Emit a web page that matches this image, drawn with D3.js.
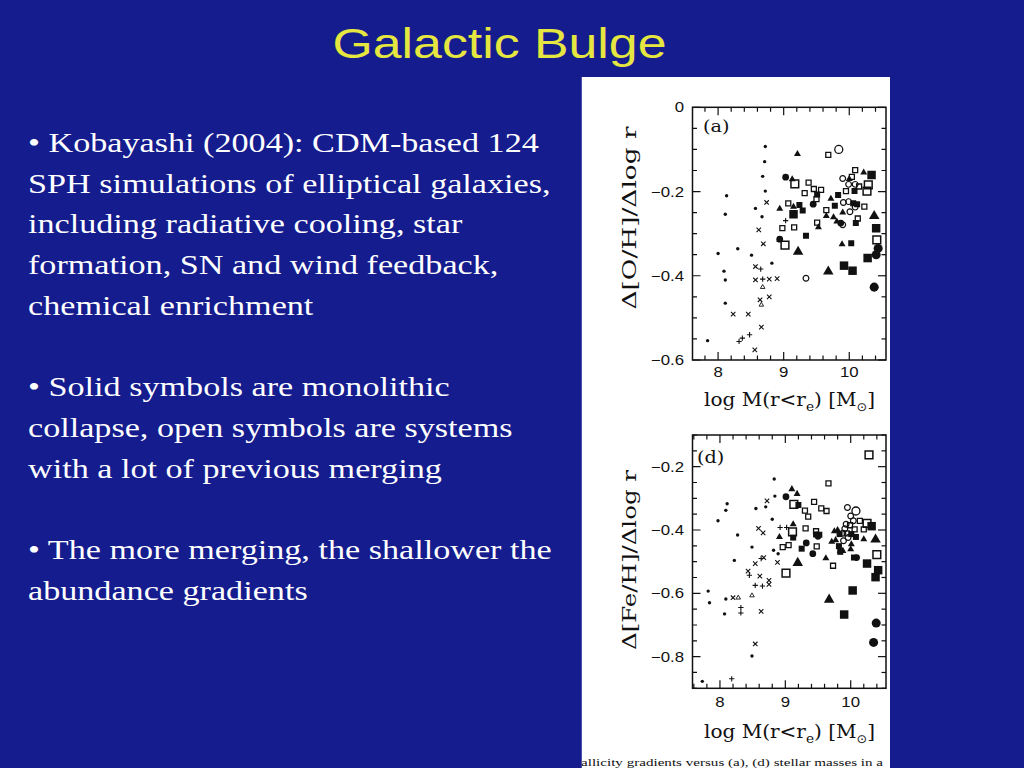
<!DOCTYPE html>
<html>
<head>
<meta charset="utf-8">
<title>Galactic Bulge</title>
<script src="https://cdn.jsdelivr.net/npm/d3@7"></script>
<style>
  html, body { margin: 0; padding: 0; background: #141c8e; }
  #slide { width: 1024px; height: 768px; overflow: hidden; }
</style>
</head>
<body>
<div id="slide"></div>
<script>
// Slide text
var titleText = 'Galactic Bulge';
var bulletLines = [
  '\u2022 Kobayashi (2004): CDM-based 124',
  'SPH simulations of elliptical galaxies,',
  'including radiative cooling, star',
  'formation, SN and wind feedback,',
  'chemical enrichment',
  '',
  '\u2022 Solid symbols are monolithic',
  'collapse, open symbols are systems',
  'with a lot of previous merging',
  '',
  '\u2022 The more merging, the shallower the',
  'abundance gradients'
];
var captionText = 'allicity gradients versus (a), (d) stellar masses in a';

// Axis ticks
var xTicks = [8, 9, 10];
var yTicksA = [0, -0.2, -0.4, -0.6];
var yTicksD = [-0.2, -0.4, -0.6, -0.8];

// Points: [log M, gradient, symbol]
// d dot, x cross, p plus, t tiny open triangle, T/TT filled triangle,
// s/S open square, q/Q filled square, o/O open circle, c/C filled circle
var pointsA = [
  [8.72,-0.093,'d'],[8.71,-0.129,'d'],[8.68,-0.164,'d'],[8.72,-0.199,'d'],[8.13,-0.21,'d'],
  [8.11,-0.254,'d'],[8.57,-0.240,'d'],[8.67,-0.260,'d'],[8.00,-0.347,'d'],[8.30,-0.336,'d'],
  [8.51,-0.351,'d'],[8.82,-0.370,'d'],[8.09,-0.389,'d'],[8.11,-0.41,'d'],[8.11,-0.465,'d'],
  [7.84,-0.554,'d'],
  [8.74,-0.226,'x'],[8.62,-0.291,'x'],[8.69,-0.324,'x'],[8.57,-0.378,'x'],[8.57,-0.41,'x'],
  [8.78,-0.408,'x'],[8.90,-0.407,'x'],[8.23,-0.491,'x'],[8.46,-0.491,'x'],[8.64,-0.457,'x'],
  [8.78,-0.450,'x'],[8.66,-0.522,'x'],[8.56,-0.576,'x'],
  [8.65,-0.384,'p'],[8.68,-0.408,'p'],[8.48,-0.540,'p'],[8.37,-0.548,'p'],[8.32,-0.556,'p'],
  [9.03,-0.269,'p'],
  [8.68,-0.427,'t'],[8.66,-0.469,'t'],
  [9.21,-0.111,'T'],[9.13,-0.171,'T'],[8.94,-0.241,'T'],[9.15,-0.236,'T'],[8.94,-0.315,'T'],
  [9.72,-0.217,'T'],[9.65,-0.258,'T'],[9.76,-0.261,'T'],[9.90,-0.250,'T'],[9.81,-0.271,'T'],
  [9.53,-0.285,'T'],[10.00,-0.170,'T'],[10.22,-0.155,'T'],[9.89,-0.325,'T'],
  [9.22,-0.343,'TT'],[9.68,-0.390,'TT'],[10.38,-0.258,'TT'],
  [9.68,-0.113,'s'],[9.38,-0.179,'s'],[9.32,-0.204,'s'],[9.46,-0.194,'s'],[9.57,-0.196,'s'],
  [9.50,-0.218,'s'],[9.07,-0.228,'s'],[8.98,-0.287,'s'],[9.16,-0.285,'s'],[9.65,-0.244,'s'],
  [9.51,-0.274,'s'],[10.04,-0.165,'s'],[10.09,-0.149,'s'],[10.15,-0.188,'s'],[9.95,-0.199,'s'],
  [10.23,-0.236,'s'],[10.13,-0.264,'s'],
  [9.17,-0.182,'S'],[9.02,-0.327,'S'],[10.29,-0.184,'S'],[10.27,-0.199,'S'],[10.42,-0.315,'S'],
  [9.51,-0.207,'q'],[9.24,-0.232,'q'],[9.29,-0.245,'q'],[9.83,-0.208,'q'],[9.78,-0.234,'q'],
  [10.08,-0.199,'q'],[10.06,-0.228,'q'],[10.12,-0.230,'q'],[10.10,-0.275,'q'],[10.03,-0.323,'q'],
  [9.34,-0.305,'q'],
  [9.15,-0.254,'Q'],[10.34,-0.161,'Q'],[10.41,-0.287,'Q'],[10.28,-0.358,'Q'],[9.92,-0.376,'Q'],
  [10.05,-0.388,'Q'],
  [9.90,-0.169,'o'],[9.99,-0.183,'o'],[10.09,-0.183,'o'],[9.91,-0.226,'o'],[9.99,-0.224,'o'],
  [10.09,-0.237,'o'],[10.01,-0.248,'o'],[9.90,-0.279,'o'],[9.34,-0.406,'o'],
  [9.84,-0.100,'O'],
  [9.03,-0.166,'c'],[9.45,-0.230,'c'],[8.94,-0.313,'c'],[9.87,-0.275,'c'],
  [10.41,-0.350,'C'],[10.44,-0.335,'C'],[10.38,-0.427,'C']
];

var pointsD = [
  [8.83,-0.239,'d'],[8.84,-0.293,'d'],[8.70,-0.327,'d'],[8.55,-0.332,'d'],[8.11,-0.317,'d'],
  [8.09,-0.338,'d'],[7.97,-0.371,'d'],[8.27,-0.416,'d'],[8.80,-0.366,'d'],[8.49,-0.454,'d'],
  [8.82,-0.464,'d'],[8.89,-0.475,'d'],[8.22,-0.496,'d'],[7.82,-0.593,'d'],[7.84,-0.630,'d'],
  [8.09,-0.618,'d'],[8.07,-0.665,'d'],[8.49,-0.798,'d'],[7.73,-0.878,'d'],
  [8.72,-0.308,'x'],[8.59,-0.395,'x'],[8.66,-0.409,'x'],[8.54,-0.506,'x'],[8.43,-0.530,'x'],
  [8.61,-0.546,'x'],[8.75,-0.559,'x'],[8.88,-0.502,'x'],[8.20,-0.614,'x'],[8.63,-0.657,'x'],
  [8.54,-0.760,'x'],[8.75,-0.572,'x'],[8.67,-0.487,'x'],
  [8.92,-0.392,'p'],[9.02,-0.392,'p'],[8.63,-0.490,'p'],[8.45,-0.543,'p'],[8.54,-0.575,'p'],
  [8.65,-0.577,'p'],[8.32,-0.645,'p'],[8.32,-0.662,'p'],[8.18,-0.870,'p'],
  [8.28,-0.614,'t'],[8.49,-0.607,'t'],
  [9.10,-0.271,'T'],[9.18,-0.286,'T'],[8.91,-0.422,'T'],[9.12,-0.382,'T'],[9.62,-0.489,'T'],
  [9.75,-0.404,'T'],[9.80,-0.400,'T'],[10.20,-0.429,'T'],[9.71,-0.437,'T'],[10.01,-0.445,'T'],
  [9.77,-0.432,'T'],[9.84,-0.466,'T'],[9.88,-0.466,'T'],[10.00,-0.461,'T'],
  [9.19,-0.504,'TT'],[9.67,-0.620,'TT'],[10.38,-0.430,'TT'],
  [9.30,-0.339,'s'],[9.35,-0.358,'s'],[9.44,-0.311,'s'],[9.55,-0.332,'s'],[9.63,-0.340,'s'],
  [9.66,-0.253,'s'],[8.96,-0.454,'s'],[9.05,-0.448,'s'],[9.31,-0.395,'s'],[9.48,-0.452,'s'],
  [9.73,-0.513,'s'],[10.20,-0.398,'s'],[10.14,-0.371,'s'],[9.47,-0.404,'s'],[9.99,-0.385,'s'],
  [9.94,-0.411,'s'],[10.06,-0.398,'s'],
  [9.13,-0.319,'S'],[9.11,-0.406,'S'],[9.01,-0.536,'S'],[10.28,-0.163,'S'],[10.40,-0.478,'S'],
  [10.25,-0.379,'S'],
  [9.20,-0.321,'q'],[9.12,-0.424,'q'],[9.25,-0.459,'q'],[9.47,-0.414,'q'],[9.52,-0.415,'q'],
  [9.83,-0.413,'q'],[10.01,-0.413,'q'],[10.08,-0.422,'q'],[9.82,-0.451,'q'],[9.84,-0.469,'q'],
  [10.05,-0.487,'q'],
  [9.90,-0.667,'Q'],[10.03,-0.591,'Q'],[10.25,-0.506,'Q'],[10.42,-0.527,'Q'],[10.38,-0.549,'Q'],
  [10.32,-0.388,'Q'],
  [9.95,-0.329,'o'],[10.00,-0.356,'o'],[10.04,-0.371,'o'],[9.93,-0.382,'o'],[9.91,-0.396,'o'],
  [9.88,-0.410,'o'],[9.89,-0.434,'o'],[9.96,-0.424,'o'],
  [10.08,-0.340,'O'],
  [9.01,-0.295,'c'],[9.32,-0.441,'c'],[9.42,-0.475,'c'],[9.50,-0.420,'c'],[10.09,-0.487,'c'],
  [10.39,-0.694,'C'],[10.35,-0.755,'C']
];

(function() {
  'use strict';

  var W = 1024, H = 768;
  var ink = '#111';

  var svg = d3.select('#slide')
    .append('svg')
    .attr('width', W)
    .attr('height', H);

  svg.append('rect')
    .attr('width', W).attr('height', H)
    .attr('fill', '#141c8e');

  // The slide is a bit wider than its fonts, so text gets a horizontal stretch
  var stretch = 1.22;

  // Title
  svg.append('text')
    .attr('x', 499.5)
    .attr('y', 58)
    .attr('text-anchor', 'middle')
    .attr('font-family', '"Liberation Sans", Arial, sans-serif')
    .attr('font-size', 42)
    .attr('fill', '#e6e640')
    .attr('textLength', 334)
    .attr('lengthAdjust', 'spacingAndGlyphs')
    .text(titleText);

  // Bullet text
  svg.selectAll('.bullet')
    .data(bulletLines)
    .enter().append('text')
    .attr('class', 'bullet')
    .attr('transform', function(d, i) {
      return 'translate(28,' + (152 + i * 40.7) + ') scale(' + stretch + ',1)';
    })
    .attr('font-family', '"Liberation Serif", "Times New Roman", serif')
    .attr('font-size', 28)
    .attr('fill', '#ffffff')
    .text(function(d) { return d; });

  // White figure panel
  svg.append('clipPath').attr('id', 'panel-clip')
    .append('rect')
    .attr('x', 581.5).attr('y', 77).attr('width', 308.5).attr('height', H - 77);

  var panel = svg.append('g').attr('clip-path', 'url(#panel-clip)');
  panel.append('rect')
    .attr('x', 581.5).attr('y', 77).attr('width', 308.5).attr('height', H - 77)
    .attr('fill', '#ffffff');

  panel.append('text')
    .attr('x', 581)
    .attr('y', 766)
    .attr('font-family', '"Liberation Serif", serif')
    .attr('font-size', 11)
    .attr('fill', ink)
    .attr('textLength', 302)
    .attr('lengthAdjust', 'spacingAndGlyphs')
    .text(captionText);

  // Symbol types
  var timesType = {
    draw: function(ctx, size) {
      var r = Math.sqrt(size) / 2;
      ctx.moveTo(-r, -r); ctx.lineTo(r, r);
      ctx.moveTo(r, -r); ctx.lineTo(-r, r);
    }
  };
  var plusType = {
    draw: function(ctx, size) {
      var r = Math.sqrt(size) / 2;
      ctx.moveTo(-r, 0); ctx.lineTo(r, 0);
      ctx.moveTo(0, -r); ctx.lineTo(0, r);
    }
  };

  var symbolStyle = {
    d:  { type: d3.symbolCircle,   size: 9,  fill: true },
    x:  { type: timesType,         size: 20, fill: false, sw: 1.1 },
    p:  { type: plusType,          size: 28, fill: false, sw: 1.1 },
    t:  { type: d3.symbolTriangle, size: 9,  fill: false, sw: 0.9 },
    T:  { type: d3.symbolTriangle, size: 21, fill: true },
    TT: { type: d3.symbolTriangle, size: 48, fill: true },
    s:  { type: d3.symbolSquare,   size: 25, fill: false, sw: 1.3 },
    S:  { type: d3.symbolSquare,   size: 60, fill: false, sw: 1.5 },
    q:  { type: d3.symbolSquare,   size: 36, fill: true },
    Q:  { type: d3.symbolSquare,   size: 72, fill: true },
    o:  { type: d3.symbolCircle,   size: 26, fill: false, sw: 1.2 },
    O:  { type: d3.symbolCircle,   size: 50, fill: false, sw: 1.3 },
    c:  { type: d3.symbolCircle,   size: 36, fill: true },
    C:  { type: d3.symbolCircle,   size: 64, fill: true }
  };

  function drawPanel(p) {
    var x = d3.scaleLinear().domain(p.xDomain).range([p.left, p.right]);
    var y = d3.scaleLinear().domain(p.yDomain).range([p.bottom, p.top]);
    var g = panel.append('g');

    // Tick marks on all four sides, pointing in
    var xMinor = d3.range(Math.ceil(p.xDomain[0] / 0.2), Math.floor(p.xDomain[1] / 0.2) + 1)
      .map(function(k) { return k * 0.2; });
    var yMinor = d3.range(Math.ceil(p.yDomain[0] / 0.05 - 1e-6), Math.floor(p.yDomain[1] / 0.05 + 1e-6) + 1)
      .map(function(k) { return k * 0.05; });

    function isMajor(v, step) { return Math.abs(v / step - Math.round(v / step)) < 1e-6; }

    xMinor.forEach(function(v) {
      var len = isMajor(v, 1) ? 8 : 4.5;
      g.append('line').attr('x1', x(v)).attr('x2', x(v))
        .attr('y1', p.bottom).attr('y2', p.bottom - len);
      g.append('line').attr('x1', x(v)).attr('x2', x(v))
        .attr('y1', p.top).attr('y2', p.top + len);
    });
    yMinor.forEach(function(v) {
      var len = isMajor(v, 0.2) ? 8 : 4.5;
      g.append('line').attr('y1', y(v)).attr('y2', y(v))
        .attr('x1', p.left).attr('x2', p.left + len);
      g.append('line').attr('y1', y(v)).attr('y2', y(v))
        .attr('x1', p.right).attr('x2', p.right - len);
    });
    g.selectAll('line').attr('stroke', ink).attr('stroke-width', 1.2);

    g.append('rect')
      .attr('x', p.left).attr('y', p.top)
      .attr('width', p.right - p.left).attr('height', p.bottom - p.top)
      .attr('fill', 'none')
      .attr('stroke', ink)
      .attr('stroke-width', 1.5);

    // Tick labels
    g.selectAll('.xtl')
      .data(xTicks)
      .enter().append('text')
      .attr('class', 'xtl')
      .attr('transform', function(d) {
        return 'translate(' + x(d) + ',' + p.xLabelY + ') scale(1.2,1)';
      })
      .attr('text-anchor', 'middle')
      .attr('font-family', '"Liberation Sans", Arial, sans-serif')
      .attr('font-size', 14)
      .attr('fill', ink)
      .text(function(d) { return d; });

    g.selectAll('.ytl')
      .data(p.yTicks)
      .enter().append('text')
      .attr('class', 'ytl')
      .attr('transform', function(d) {
        return 'translate(684,' + (y(d) + 5) + ') scale(1.2,1)';
      })
      .attr('text-anchor', 'end')
      .attr('font-family', '"Liberation Sans", Arial, sans-serif')
      .attr('font-size', 14)
      .attr('fill', ink)
      .text(function(d) { return d === 0 ? '0' : '\u2212' + Math.abs(d).toFixed(1); });

    // Panel tag
    g.append('text')
      .attr('transform', 'translate(' + p.tagX + ',' + p.tagY + ') scale(1.2,1)')
      .attr('font-family', '"DejaVu Serif", serif')
      .attr('font-size', 16)
      .attr('fill', ink)
      .text(p.tag);

    // x axis label: log M(r<r_e) [M_sun]
    var xl = g.append('text')
      .attr('x', 704)
      .attr('y', p.xTitleY)
      .attr('font-family', '"DejaVu Serif", serif')
      .attr('font-size', 19)
      .attr('fill', ink)
      .attr('textLength', 171)
      .attr('lengthAdjust', 'spacingAndGlyphs');
    xl.append('tspan').text('log M(r<r');
    xl.append('tspan').attr('dy', 5).attr('font-size', 13).text('e');
    xl.append('tspan').attr('dy', -5).text(') [M');
    xl.append('tspan').attr('dy', 5).attr('font-size', 12)
      .attr('font-family', '"DejaVu Sans", sans-serif').text('\u2299');
    xl.append('tspan').attr('dy', -5).text(']');

    // y axis label
    g.append('text')
      .attr('transform', 'translate(636,' + p.yTitleMid + ') rotate(-90)')
      .attr('text-anchor', 'middle')
      .attr('font-family', '"DejaVu Serif", serif')
      .attr('font-size', 19)
      .attr('fill', ink)
      .attr('textLength', p.yTitleLen)
      .attr('lengthAdjust', 'spacingAndGlyphs')
      .text(p.yTitle);

    // Points
    g.selectAll('.pt')
      .data(p.points)
      .enter().append('path')
      .attr('class', 'pt')
      .attr('transform', function(d) { return 'translate(' + x(d[0]) + ',' + y(d[1]) + ')'; })
      .attr('d', function(d) {
        var s = symbolStyle[d[2]];
        return d3.symbol().type(s.type).size(s.size)();
      })
      .attr('fill', function(d) { return symbolStyle[d[2]].fill ? ink : 'none'; })
      .attr('stroke', function(d) { return symbolStyle[d[2]].fill ? 'none' : ink; })
      .attr('stroke-width', function(d) { return symbolStyle[d[2]].sw || 0; });
  }

  drawPanel({
    left: 692.5, right: 886, top: 107.3, bottom: 360,
    xDomain: [7.61, 10.56], yDomain: [-0.6, 0],
    yTicks: yTicksA, xLabelY: 377, xTitleY: 406,
    tag: '(a)', tagX: 703, tagY: 132,
    yTitle: '\u0394[O/H]/\u0394log r', yTitleMid: 218, yTitleLen: 183,
    points: pointsA
  });

  drawPanel({
    left: 692.5, right: 886, top: 435, bottom: 688.3,
    xDomain: [7.58, 10.54], yDomain: [-0.9, -0.1],
    yTicks: yTicksD, xLabelY: 707, xTitleY: 738,
    tag: '(d)', tagX: 697, tagY: 463,
    yTitle: '\u0394[Fe/H]/\u0394log r', yTitleMid: 560, yTitleLen: 180,
    points: pointsD
  });
})();
</script>
</body>
</html>
